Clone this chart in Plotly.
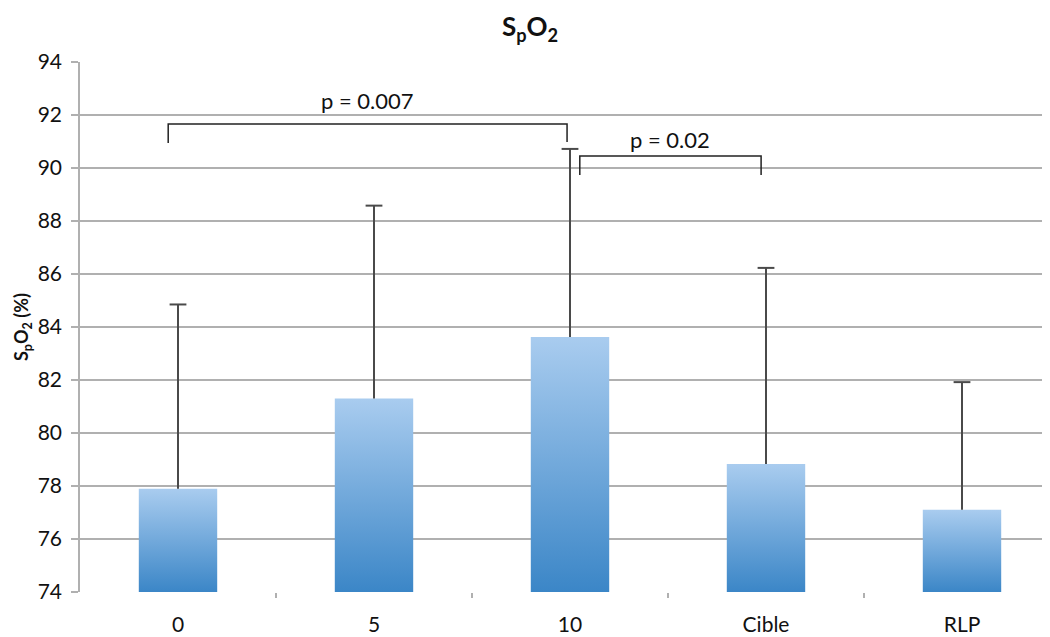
import plotly.graph_objects as go

categories = ["0", "5", "10", "Cible", "RLP"]
means = [77.9, 81.3, 83.62, 78.83, 77.1]
err_upper = [6.95, 7.28, 7.1, 7.4, 4.82]

y_ticks = [74, 76, 78, 80, 82, 84, 86, 88, 90, 92, 94]

# significance brackets
br_from = [0, 2]
br_to = [2, 3]
br_top = [91.66, 90.45]
br_foot_left = [90.94, 89.74]
br_foot_right = [90.98, 89.74]
br_label = ["p = 0.007", "p = 0.02"]
br_label_y = [92.53, 91.09]

FONT = "Lato"
BASE = 74
HALF = 0.2
TOP_C = "#a9ccef"
BOT_C = "#3b86c7"
ERR_C = "#4a4a4a"

# the page body has an 8px margin, so the figure is drawn 8px smaller
W, H = 1042, 629

fig = go.Figure()

for i, (c, v) in enumerate(zip(categories, means)):
    fig.add_trace(go.Scatter(
        x=[i - HALF, i + HALF, i + HALF, i - HALF, i - HALF],
        y=[BASE, BASE, v, v, BASE],
        mode="lines", line=dict(width=0),
        fill="toself",
        fillgradient=dict(type="vertical", colorscale=[[0, BOT_C], [1, TOP_C]],
                          start=BASE, stop=v),
        hoverinfo="skip", showlegend=False, name=c,
    ))

# error bar stems (upper only)
sx, sy = [], []
for i, (v, e) in enumerate(zip(means, err_upper)):
    sx += [i, i, None]
    sy += [v, v + e, None]
fig.add_trace(go.Scatter(x=sx, y=sy, mode="lines", line=dict(color=ERR_C, width=2),
                         hoverinfo="skip", showlegend=False))
fig.add_trace(go.Scatter(
    x=list(range(len(categories))), y=[v + e for v, e in zip(means, err_upper)],
    mode="markers", marker=dict(symbol="line-ew", size=12, line=dict(color=ERR_C, width=2)),
    showlegend=False, hovertext=categories,
))

offs_l = [-0.05, 0.05]
offs_r = [-0.015, -0.025]
for k in range(len(br_from)):
    x0 = br_from[k] + offs_l[k]
    x1 = br_to[k] + offs_r[k]
    fig.add_trace(go.Scatter(
        x=[x0, x0, x1, x1], y=[br_foot_left[k], br_top[k], br_top[k], br_foot_right[k]],
        mode="lines", line=dict(color="#222222", width=1.5),
        hoverinfo="skip", showlegend=False,
    ))
    fig.add_annotation(x=(x0 + x1) / 2, y=br_label_y[k], text=br_label[k],
                       showarrow=False, font=dict(family=FONT, size=22, color="#111"),
                       xanchor="center", yanchor="middle")

fig.add_annotation(xref="paper", yref="paper", x=0, y=0.5, xshift=-58,
                   text="<b>S<sub>p</sub>O<sub>2</sub> (%)</b>", textangle=-90,
                   showarrow=False, font=dict(family=FONT, size=18, color="#111"),
                   xanchor="center", yanchor="middle")

fig.update_layout(
    width=W, height=H,
    margin=dict(l=72, r=0, t=54, b=45),
    plot_bgcolor="white", paper_bgcolor="white",
    title=dict(text="<b>S<sub>p</sub>O<sub>2</sub></b>", x=522 / W, xanchor="center",
               y=1 - 19 / H, yanchor="middle",
               font=dict(family=FONT, size=26, color="#111")),
    font=dict(family=FONT, size=21, color="#111"),
)
fig.update_xaxes(
    range=[-0.5, 4.449], tickvals=list(range(len(categories))), ticktext=categories,
    ticks="", showgrid=False, zeroline=False, showline=False, automargin=False,
    ticklabelstandoff=18,
    minor=dict(tickvals=[0.5, 1.5, 2.5, 3.5], ticks="outside", ticklen=5,
               tickcolor="#b0b0b0", tickwidth=1.5, showgrid=False),
    tickfont=dict(family=FONT, size=21, color="#111"),
)
fig.update_yaxes(
    range=[74, 94], tickvals=y_ticks, ticks="outside", ticklen=7, tickcolor="#b0b0b0",
    tickwidth=1.5, showgrid=True, gridcolor="#b0b0b0", gridwidth=1.5,
    showline=True, linecolor="#b0b0b0", linewidth=1.5, zeroline=False, automargin=False,
    ticklabelstandoff=5,
    tickfont=dict(family=FONT, size=21, color="#111"),
)

fig.write_html("out.html")
